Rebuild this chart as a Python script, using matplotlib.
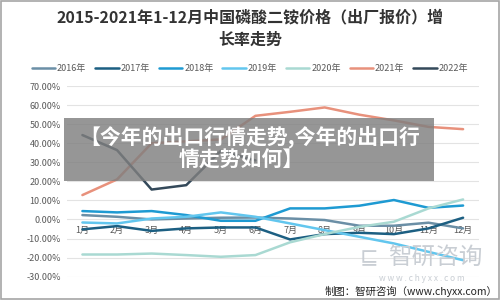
import matplotlib
matplotlib.use('Agg')
import matplotlib.pyplot as plt
from matplotlib.patches import Rectangle

plt.rcParams['font.family'] = ['Noto Sans CJK SC', 'DejaVu Sans']

months = ['1月', '2月', '3月', '4月', '5月', '6月', '7月', '8月', '9月', '10月', '11月', '12月']
years = ['2016年', '2017年', '2018年', '2019年', '2020年', '2021年', '2022年']
colors = ['#6B8FA6', '#1C5F82', '#1E9AD2', '#62C6EE', '#A9D9D2', '#E8917C', '#34495A']

# growth rate (%)
s2016 = [2.3, 1.4, 0.0, 0.5, 0.9, 1.0, 0.5, -0.3, -3.3, -3.3, -1.7, -4.7]
s2017 = [-5.2, -3.5, -6.0, -4.7, -4.2, -4.2, -10.5, -7.7, -7.0, -7.7, -4.7, 0.9]
s2018 = [4.4, 3.7, 4.4, 2.3, -0.7, -0.7, 5.8, 5.8, 7.2, 10.2, 6.1, 7.3]
s2019 = [-1.6, -2.1, 0.5, 1.4, 3.7, 1.4, -2.1, -5.6, -9.1, -12.6, -17.0, -21.4]
s2020 = [-18.4, -18.4, -17.9, -18.7, -19.6, -18.7, -12.0, -7.7, -3.9, -1.2, 5.8, 10.5]
s2021 = [12.8, 21.0, 40.0, 41.0, 42.0, 54.4, 56.5, 58.8, 55.0, 52.0, 48.6, 47.4]
s2022 = [44.3, 36.4, 15.7, 18.0, 36.0, 31.0]
series = [s2016, s2017, s2018, s2019, s2020, s2021, s2022]

yticks = [-30, -20, -10, 0, 10, 20, 30, 40, 50, 60, 70]

fig = plt.figure(figsize=(5, 3), dpi=100)
fig.patch.set_facecolor('white')
ax = fig.add_axes([0.133, 0.078, 0.825, 0.635])

for sp in ax.spines.values():
    sp.set_visible(False)
ax.spines['bottom'].set_position(('data', 0))

for name, vals, c in zip(years, series, colors):
    ax.plot(range(len(vals)), vals, color=c, lw=1.8, label=name, solid_capstyle='round')

ax.set_xlim(-0.46, 11.46)
ax.set_ylim(-30, 70)
ax.set_yticks(yticks)
ax.set_yticklabels(['%.2f%%' % v for v in yticks])
ax.set_xticks(range(12))
ax.set_xticklabels(months)
ax.tick_params(length=0, labelsize=6.5, labelcolor='#595959')
ax.tick_params(axis='y', pad=4)
ax.tick_params(axis='x', pad=5)
ax.yaxis.grid(True, color='#E3E3E3', lw=0.8)
ax.set_axisbelow(True)

leg = fig.legend(loc='center', bbox_to_anchor=(0.5, 0.77), ncol=7, frameon=False,
                 fontsize=6.5, handlelength=2.6, columnspacing=1.0, handletextpad=0.2)
for t in leg.get_texts():
    t.set_color('#595959')

fig.text(0.5, 0.943, '2015-2021年1-12月中国磷酸二铵价格（出厂报价）增',
         ha='center', va='center', fontsize=11.5, fontweight='bold', color='#333333')
fig.text(0.5, 0.867, '长率走势', ha='center', va='center', fontsize=11.5,
         fontweight='bold', color='#333333')

# watermark and source
fig.text(0.738, 0.14, '⊑', ha='center', va='center', fontsize=16, color='#C9CED4',
         family=['DejaVu Sans'])
fig.text(0.87, 0.14, '智研咨询', ha='center', va='center', fontsize=17, color='#C9CED4')
fig.text(0.843, 0.072, 'w w w . c h y x x . c o m', ha='center', va='center', fontsize=6,
         color='#C9CED4')
fig.text(0.994, 0.03, '制图：智研咨询（www.chyxx.com）', ha='right', va='center',
         fontsize=7.5, color='#222222')

# banner overlay
fig.patches.append(Rectangle((0.128, 0.398), 0.74, 0.21, transform=fig.transFigure,
                             facecolor='#7F7F7F', alpha=0.82, edgecolor='none', zorder=5))
fig.text(0.5, 0.54, '【今年的出口行情走势,今年的出口行', ha='center', va='center',
         fontsize=15, fontweight='bold', color='white', zorder=6)
fig.text(0.482, 0.465, '情走势如何】', ha='center', va='center', fontsize=15,
         fontweight='bold', color='white', zorder=6)

fig.patches.append(Rectangle((0.002, 0.003), 0.996, 0.994, transform=fig.transFigure,
                             facecolor='none', edgecolor='#A6A6A6', lw=1.2, zorder=7))

fig.savefig('out.png', dpi=100)
